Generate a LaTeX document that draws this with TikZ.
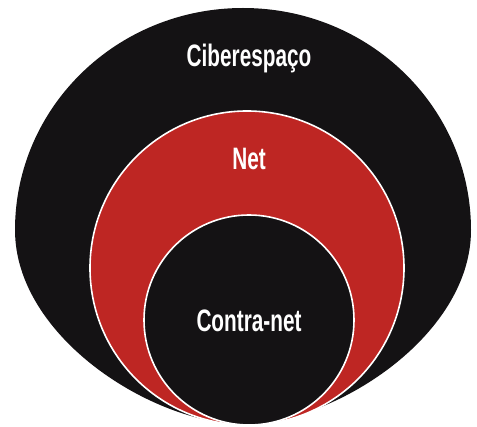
\documentclass[tikz,border=0pt]{standalone}
\usepackage{xcolor}
\usepackage{fontspec}
\usepackage{tikz}
\newfontfamily\labelfont[FakeStretch=0.67]{Liberation Sans}
\definecolor{netred}{RGB}{190,38,35}
\definecolor{cyberblack}{RGB}{20,18,20}

\begin{document}
\begin{tikzpicture}[x=1pt,y=-1pt]
\useasboundingbox (0,0) rectangle (477,427);

% outer egg
\fill [cyberblack] (15,230) .. controls (15,107) and (117,8) .. (243,8)
  .. controls (369,8) and (471,107) .. (471,230)
  .. controls (471,337) and (333,424) .. (243,424)
  .. controls (153,424) and (15,337) .. (15,230);

\draw [white, line width=1.6pt, fill=netred] (247,268) circle [radius=157pt];
\draw [white, line width=1.6pt, fill=cyberblack] (249,320) circle [radius=105pt];

\node [white, anchor=base, font=\labelfont\bfseries\fontsize{31}{36}\selectfont] (ciber) at (249,67) {Ciberespaço};
\node [white, anchor=base, font=\labelfont\bfseries\fontsize{31}{36}\selectfont] (net) at (249,170) {Net};
\node [white, anchor=base, font=\labelfont\bfseries\fontsize{31}{36}\selectfont] (contra) at (249,332) {Contra-net};

\end{tikzpicture}
\end{document}
